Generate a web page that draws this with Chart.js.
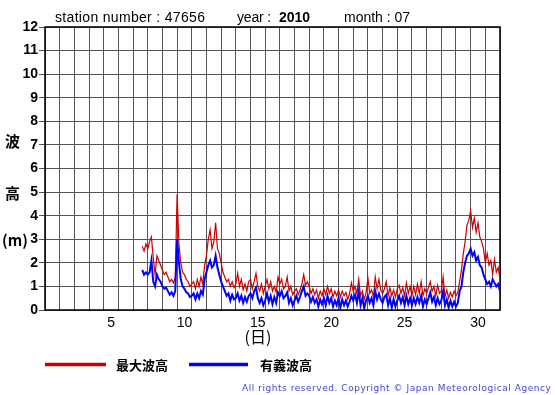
<!DOCTYPE html>
<html>
<head>
<meta charset="utf-8">
<script src="https://cdn.jsdelivr.net/npm/chart.js@4.4.1/dist/chart.umd.min.js"></script>
<style>
html, body { margin: 0; padding: 0; background: #fff; }
#wrap { width: 555px; height: 395px; }
</style>
</head>
<body>
<div id="wrap"><canvas id="chart" width="555" height="395"></canvas></div>
<script>
"use strict";

// 3-hourly readings, first one at day 7 15:00
var startDay = 7;
var startHour = 15;
var stepHours = 3;

// 最大波高 (m)
var maxWave = [
    2.7, 2.5, 2.8,
    2.6, 2.9, 3.1, 2.2, 1.5, 2.3, 2.1, 1.9,
    1.7, 1.5, 1.6, 1.4, 1.2, 1.3, 1.15, 1.4,
    4.9, 2.8, 2.0, 1.6, 1.5, 1.3, 1.2, 1.0,
    1.1, 1.2, 0.9, 1.3, 1.0, 1.4, 1.1, 1.9,
    2.3, 3.0, 3.4, 2.6, 2.9, 3.7, 2.6, 2.4,
    2.0, 1.6, 1.4, 1.2, 1.3, 1.0, 1.2, 0.95,
    1.1, 1.55, 1.0, 1.3, 0.85, 1.1, 0.8, 1.2,
    1.3, 0.9, 1.2, 1.55, 1.0, 0.8, 1.1, 0.7,
    1.0, 1.3, 0.9, 1.2, 0.8, 1.0, 0.75, 1.4,
    1.1, 1.3, 0.9, 1.0, 1.4, 0.8, 1.0, 0.65,
    0.8, 0.9, 0.65, 0.85, 1.1, 1.5, 1.05, 1.2,
    1.0, 0.7, 0.9, 0.65, 0.85, 0.5, 0.8, 0.6,
    0.9, 0.65, 1.0, 0.7, 0.9, 0.55, 0.8, 0.6,
    0.85, 0.55, 0.8, 0.6, 0.75, 0.45, 0.7, 1.15,
    0.8, 1.0, 0.7, 1.3, 0.6, 0.8, 0.45, 0.75,
    1.35, 0.7, 0.85, 0.55, 1.4, 0.9, 1.3, 0.85,
    0.7, 0.9, 1.2, 0.6, 0.95, 0.6, 0.85, 0.55,
    0.9, 1.05, 0.7, 0.95, 0.6, 1.15, 0.7, 1.0,
    0.6, 1.0, 0.65, 1.1, 0.7, 1.2, 0.6, 0.9,
    0.7, 0.95, 1.2, 0.8, 1.0, 0.6, 1.05, 0.7,
    0.8, 1.4, 0.55, 0.85, 0.5, 0.75, 0.55, 0.8,
    0.6, 0.75, 1.2, 1.7, 2.4, 2.9, 3.6, 3.8,
    4.2, 3.5, 3.9, 3.3, 3.7, 3.1, 2.9, 2.6,
    2.0, 2.4, 1.9, 2.1, 1.5, 2.15, 1.6, 1.8,
    1.3
];

// 有義波高 (m)
var sigWave = [
    1.7, 1.5, 1.6,
    1.5, 1.6, 2.1, 1.2, 1.0, 1.5, 1.3, 1.2,
    1.0, 0.9, 0.95, 0.8, 0.65, 0.75, 0.6, 0.8,
    3.0, 2.0, 1.3, 1.0, 0.9, 0.75, 0.7, 0.55,
    0.6, 0.7, 0.45, 0.7, 0.5, 0.8, 0.65, 1.3,
    1.6, 1.9, 2.1, 1.8, 1.9, 2.3, 1.8, 1.5,
    1.2, 1.0, 0.8, 0.6, 0.7, 0.4, 0.65, 0.45,
    0.5, 0.7, 0.4, 0.6, 0.3, 0.55, 0.35, 0.6,
    0.7, 0.5, 0.8, 0.95, 0.5, 0.3, 0.5, 0.2,
    0.4, 0.7, 0.35, 0.6, 0.25, 0.55, 0.3, 0.75,
    0.6, 0.8, 0.5, 0.6, 0.75, 0.3, 0.5, 0.2,
    0.4, 0.6, 0.35, 0.55, 0.8, 1.0, 0.6, 0.7,
    0.6, 0.35, 0.55, 0.3, 0.45, 0.15, 0.45, 0.25,
    0.5, 0.2, 0.6, 0.3, 0.5, 0.15, 0.4, 0.2,
    0.5, 0.1, 0.45, 0.2, 0.4, 0.15, 0.35, 0.6,
    0.4, 0.65, 0.3, 0.8, 0.2, 0.5, 0.07, 0.4,
    0.6, 0.3, 0.5, 0.2, 0.8, 0.45, 0.7, 0.45,
    0.3, 0.55, 0.65, 0.2, 0.5, 0.1, 0.45, 0.15,
    0.4, 0.6, 0.3, 0.55, 0.2, 0.6, 0.25, 0.5,
    0.2, 0.5, 0.25, 0.55, 0.3, 0.6, 0.15, 0.45,
    0.25, 0.5, 0.75, 0.35, 0.55, 0.2, 0.5, 0.25,
    0.4, 0.8, 0.2, 0.45, 0.1, 0.4, 0.15, 0.35,
    0.15, 0.3, 0.8, 1.0, 1.6, 2.0, 2.3, 2.4,
    2.6, 2.3, 2.45, 2.1, 2.25, 1.9, 1.8, 1.5,
    1.3, 1.1, 1.2, 1.0, 1.3, 1.15, 1.0, 1.1,
    0.8
];

var dayLabels = [5, 10, 15, 20, 25, 30];
var daysInMonth = 31;
var yMax = 12;

function toPoints(values) {
    return values.map(function(v, i) {
        return { x: (startDay - 1) + (startHour + i * stepHours) / 24, y: v };
    });
}

function spaced(ctx, text, x, y, width) {
    ctx.letterSpacing = '0px';
    var w = ctx.measureText(text).width;
    var extra = (width - w) / Math.max(text.length - 1, 1);
    ctx.letterSpacing = extra.toFixed(2) + 'px';
    ctx.fillText(text, x, y);
    ctx.letterSpacing = '0px';
}

var decorations = {
    id: 'decorations',
    beforeDatasetsDraw: function(chart) {
        var ctx = chart.ctx, a = chart.chartArea;
        ctx.save();
        ctx.strokeStyle = '#000';
        ctx.lineWidth = 1.5;
        ctx.strokeRect(a.left, a.top, a.right - a.left, a.bottom - a.top);
        ctx.restore();
    },
    afterDraw: function(chart) {
        var ctx = chart.ctx;
        ctx.save();
        ctx.fillStyle = '#000';
        ctx.textBaseline = 'alphabetic';
        ctx.textAlign = 'left';

        ctx.font = '14px "Liberation Sans", Arial, sans-serif';
        spaced(ctx, 'station number : 47656', 55, 22, 150);
        spaced(ctx, 'year : ', 237, 22, 38);
        ctx.font = 'bold 14px "Liberation Sans", Arial, sans-serif';
        ctx.fillText('2010', 279, 22);
        ctx.font = '14px "Liberation Sans", Arial, sans-serif';
        spaced(ctx, 'month : 07', 344, 22, 66);

        ctx.font = 'bold 15px "Noto Sans CJK JP", sans-serif';
        ctx.fillText('波', 5, 147);
        ctx.fillText('高', 5, 199);
        ctx.fillText('(m)', 2, 246);

        ctx.textAlign = 'center';
        ctx.font = '16px "Noto Sans CJK JP", sans-serif';
        ctx.fillText('(日)', 258, 343);

        ctx.textAlign = 'left';
        ctx.lineWidth = 3.5;
        ctx.strokeStyle = '#cc0000';
        ctx.beginPath(); ctx.moveTo(45, 364.5); ctx.lineTo(106, 364.5); ctx.stroke();
        ctx.strokeStyle = '#0000ff';
        ctx.beginPath(); ctx.moveTo(189, 364.5); ctx.lineTo(248, 364.5); ctx.stroke();
        ctx.font = 'bold 13px "Noto Sans CJK JP", sans-serif';
        ctx.fillText('最大波高', 116, 370);
        ctx.fillText('有義波高', 260, 370);

        ctx.fillStyle = '#4444dd';
        ctx.font = '9px "DejaVu Sans", sans-serif';
        spaced(ctx, 'All rights reserved. Copyright \u00a9 Japan Meteorological Agency', 242, 391, 309);
        ctx.restore();
    }
};

var xTicks = [];
for (var d = 0; d <= daysInMonth; d++) xTicks.push({ value: d });
dayLabels.forEach(function(d) { xTicks.push({ value: d - 0.5 }); });
xTicks.sort(function(a, b) { return a.value - b.value; });

new Chart(document.getElementById('chart'), {
    type: 'line',
    data: {
        datasets: [{
            label: '最大波高',
            data: toPoints(maxWave),
            borderColor: '#cc0000',
            borderWidth: 1.2,
            pointRadius: 0,
            order: 2
        }, {
            label: '有義波高',
            data: toPoints(sigWave),
            borderColor: '#0000ff',
            borderWidth: 2,
            pointRadius: 0,
            order: 1
        }]
    },
    options: {
        responsive: false,
        animation: false,
        devicePixelRatio: 1,
        layout: { padding: { left: 0, top: 27, right: 55, bottom: 0 } },
        plugins: { legend: { display: false }, tooltip: { enabled: false } },
        scales: {
            x: {
                type: 'linear',
                min: 0,
                max: daysInMonth,
                afterBuildTicks: function(scale) { scale.ticks = xTicks.slice(); },
                afterFit: function(scale) { scale.height = 85; },
                border: { display: false },
                grid: {
                    drawTicks: false,
                    lineWidth: 1,
                    color: function(c) {
                        return Number.isInteger(c.tick.value) ? '#555' : 'rgba(0,0,0,0)';
                    }
                },
                ticks: {
                    autoSkip: false,
                    maxRotation: 0,
                    padding: 5,
                    color: '#000',
                    font: { family: '"Liberation Sans", Arial, sans-serif', size: 14 },
                    callback: function(v) {
                        return Number.isInteger(v) ? '' : String(v + 0.5);
                    }
                }
            },
            y: {
                min: 0,
                max: yMax,
                afterFit: function(scale) { scale.width = 45; },
                border: { display: false },
                grid: { color: '#555', lineWidth: 1, tickLength: 6, tickColor: '#555' },
                ticks: {
                    stepSize: 1,
                    padding: 1,
                    color: '#000',
                    font: { family: '"Liberation Sans Narrow", "Liberation Sans", Arial, sans-serif', size: 14, weight: 'bold' }
                }
            }
        }
    },
    plugins: [decorations]
});
</script>
</body>
</html>
